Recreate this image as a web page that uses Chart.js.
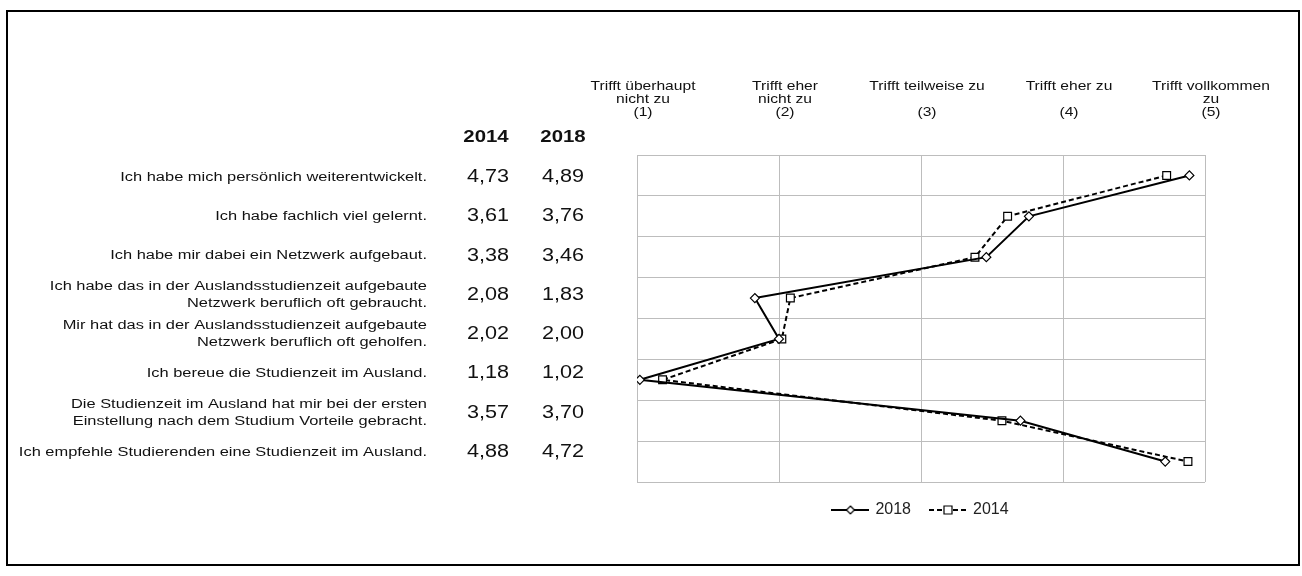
<!DOCTYPE html>
<html lang="de">
<head>
<meta charset="utf-8">
<title>Auslandsstudium 2014 / 2018</title>
<script src="https://cdn.jsdelivr.net/npm/chart.js@4.4.1/dist/chart.umd.min.js"></script>
<style>
  html, body { margin: 0; padding: 0; background: #fff; }
  #wrap { position: relative; width: 1302px; height: 576px; }
  #frame { position: absolute; left: 6px; top: 10px; width: 1290px; height: 552px; border: 2px solid #000; pointer-events: none; }
</style>
</head>
<body>
<div id="wrap">
  <canvas id="chart" width="1302" height="576"></canvas>
  <div id="frame"></div>
</div>
<script>
const statements = [
  ["Ich habe mich persönlich weiterentwickelt."],
  ["Ich habe fachlich viel gelernt."],
  ["Ich habe mir dabei ein Netzwerk aufgebaut."],
  ["Ich habe das in der Auslandsstudienzeit aufgebaute", "Netzwerk beruflich oft gebraucht."],
  ["Mir hat das in der Auslandsstudienzeit aufgebaute", "Netzwerk beruflich oft geholfen."],
  ["Ich bereue die Studienzeit im Ausland."],
  ["Die Studienzeit im Ausland hat mir bei der ersten", "Einstellung nach dem Studium Vorteile gebracht."],
  ["Ich empfehle Studierenden eine Studienzeit im Ausland."]
];
const scaleLabels = [
  ["Trifft überhaupt", "nicht zu", "(1)"],
  ["Trifft eher", "nicht zu", "(2)"],
  ["Trifft teilweise zu", "", "(3)"],
  ["Trifft eher zu", "", "(4)"],
  ["Trifft vollkommen", "zu", "(5)"]
];
const years = ["2014", "2018"];
const values2014 = [4.73, 3.61, 3.38, 2.08, 2.02, 1.18, 3.57, 4.88];
const values2018 = [4.89, 3.76, 3.46, 1.83, 2.00, 1.02, 3.70, 4.72];

const FONT = '"Liberation Sans", Arial, Helvetica, sans-serif';
const SX = 1.2; // text in the original is a little wide
const fmt = (v) => v.toFixed(2).replace(".", ",");

function wideText(ctx, text, x, y, align) {
  ctx.save();
  ctx.scale(SX, 1);
  ctx.textAlign = align;
  ctx.fillText(text, x / SX, y);
  ctx.restore();
}

// little "line + marker" pictures for the legend
function legendIcon(ds) {
  const c = document.createElement("canvas");
  c.width = 38;
  c.height = 12;
  const g = c.getContext("2d");
  g.strokeStyle = "#000";
  g.lineWidth = 2;
  g.setLineDash(ds.borderDash || []);
  g.beginPath();
  g.moveTo(0, 6);
  g.lineTo(38, 6);
  g.stroke();
  g.setLineDash([]);
  g.fillStyle = "#fff";
  g.lineWidth = 1.2;
  g.beginPath();
  if (ds.pointStyle === "rect") {
    g.rect(15, 2, 8, 8);
  } else {
    g.moveTo(19, 2);
    g.lineTo(23, 6);
    g.lineTo(19, 10);
    g.lineTo(15, 6);
    g.closePath();
  }
  g.fill();
  g.stroke();
  return c;
}

const tablePlugin = {
  id: "table",
  afterDraw(chart) {
    const ctx = chart.ctx;
    const xs = chart.scales.x;
    ctx.save();
    ctx.fillStyle = "#111";
    ctx.textBaseline = "middle";

    // answer scale above the plot
    ctx.font = "13px " + FONT;
    scaleLabels.forEach((lines, i) => {
      const x = xs.getPixelForValue(i + 1) + 6;
      lines.forEach((t, k) => wideText(ctx, t, x, 86 + k * 13, "center"));
    });

    // year headers
    ctx.font = "bold 17px " + FONT;
    wideText(ctx, years[0], 486, 137, "center");
    wideText(ctx, years[1], 563, 137, "center");

    // statements + means
    statements.forEach((lines, i) => {
      const y = 177 + i * 39.3;
      ctx.font = "13.7px " + FONT;
      const n = lines.length;
      lines.forEach((t, k) => wideText(ctx, t, 427, y + (k - (n - 1) / 2) * 17, "right"));
      ctx.font = "18px " + FONT;
      wideText(ctx, fmt(values2014[i]), 488, y, "center");
      wideText(ctx, fmt(values2018[i]), 563, y, "center");
    });
    ctx.restore();
  },
};

new Chart(document.getElementById("chart"), {
  type: "line",
  data: {
    labels: statements.map((l) => l.join(" ")),
    datasets: [
      {
        label: years[1],
        data: values2018,
        borderColor: "#000",
        borderWidth: 2,
        tension: 0,
        pointStyle: "rectRot",
        pointRadius: 4.5,
        pointBackgroundColor: "#fff",
        pointBorderColor: "#000",
        pointBorderWidth: 1.2,
      },
      {
        label: years[0],
        data: values2014,
        borderColor: "#000",
        borderWidth: 2,
        borderDash: [5, 3],
        tension: 0,
        pointStyle: "rect",
        pointRadius: 5.5,
        pointBackgroundColor: "#fff",
        pointBorderColor: "#000",
        pointBorderWidth: 1.2,
      },
    ],
  },
  options: {
    indexAxis: "y",
    responsive: false,
    animation: false,
    layout: { padding: { left: 637, right: 97, top: 155, bottom: 48 } },
    scales: {
      x: {
        type: "linear",
        min: 1,
        max: 5,
        ticks: { display: false, stepSize: 1 },
        grid: { color: "#bdbdbd", drawTicks: false },
        border: { display: false },
      },
      y: {
        type: "category",
        offset: true,
        ticks: { display: false },
        grid: { offset: true, color: "#bdbdbd", drawTicks: false },
        border: { display: false },
      },
    },
    plugins: {
      tooltip: { enabled: false },
      legend: {
        position: "bottom",
        labels: {
          usePointStyle: true,
          pointStyleWidth: 34,
          padding: 20,
          color: "#222",
          font: { family: FONT, size: 16 },
          generateLabels(chart) {
            const items = Chart.defaults.plugins.legend.labels.generateLabels(chart);
            items.forEach((it) => {
              it.pointStyle = legendIcon(chart.data.datasets[it.datasetIndex]);
            });
            return items;
          },
        },
      },
    },
  },
  plugins: [tablePlugin],
});
</script>
</body>
</html>
